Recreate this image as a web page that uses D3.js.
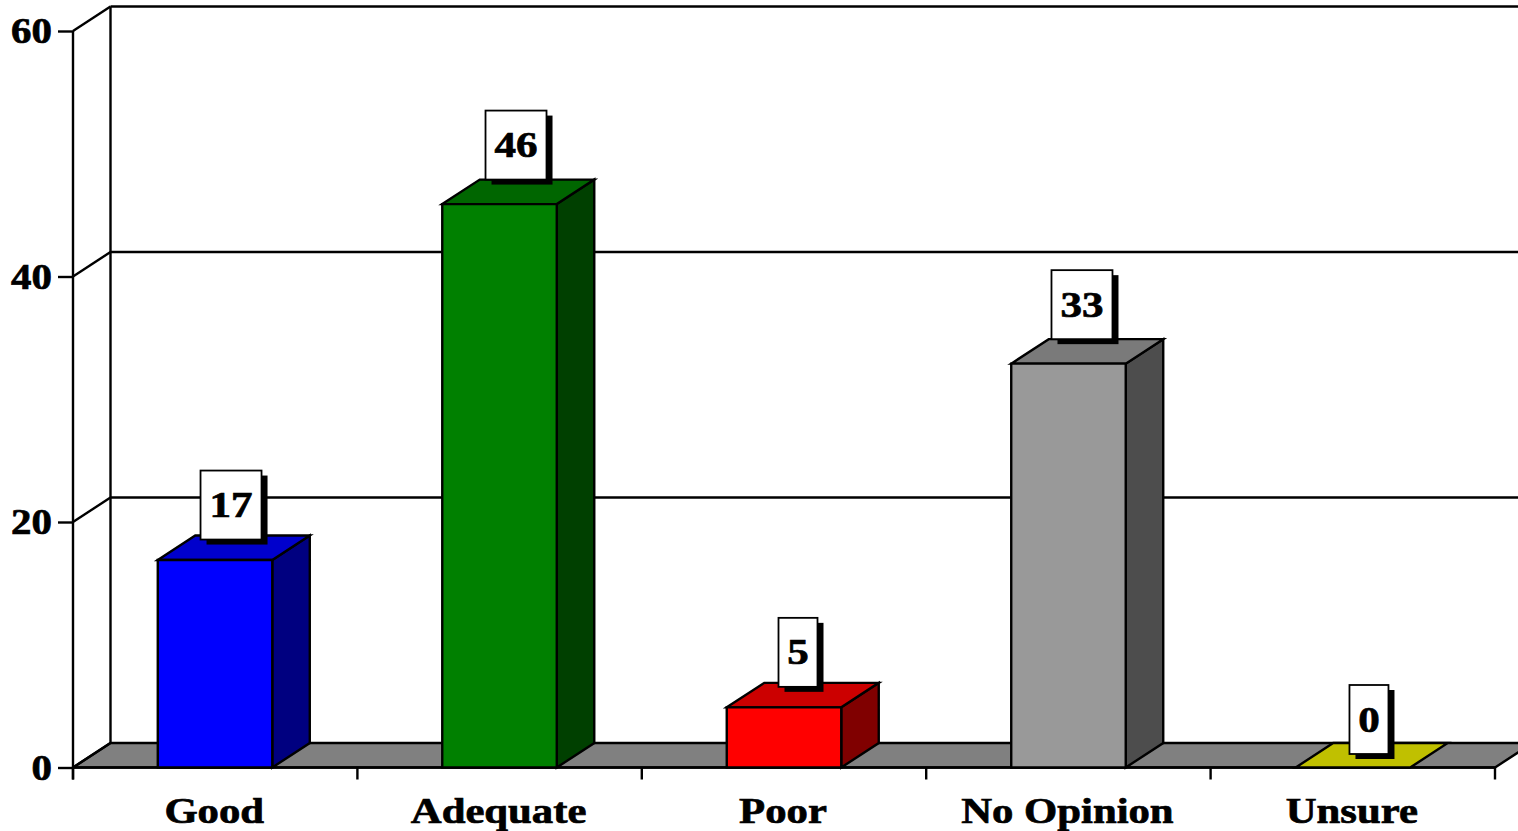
<!DOCTYPE html>
<html><head><meta charset="utf-8">
<script src="https://cdn.jsdelivr.net/npm/d3@7/dist/d3.min.js"></script>
<style>html,body{margin:0;padding:0;background:#fff;overflow:hidden}svg{display:block}
text{font-family:"Liberation Serif",serif;font-weight:bold;fill:#000;stroke:#000;stroke-width:0.7px}</style></head>
<body><svg id="c" width="1518" height="831"></svg>
<script>
const categories = ["Good","Adequate","Poor","No Opinion","Unsure"];
const values = [16.9,45.9,4.9,32.9,0];
const valueLabels = ["17","46","5","33","0"];
const frontColors = ["#0000ff","#008000","#ff0000","#999999","#c0c000"];
const topColors = ["#0000cc","#006600","#cc0000","#7a7a7a","#c0c000"];
const sideColors = ["#000080","#004000","#800000","#4d4d4d","#606000"];
const yTicks = [0,20,40,60];

const svg = d3.select("#c");
const L=73,R=1495,B=767.5,T=31,DX=37.5,DY=-24.5,FS=36.5,SX=1.17,LW=2.4;
const x = d3.scaleBand().domain(categories).range([L,R]).paddingInner(0.5975).paddingOuter(0.298);
const y = d3.scaleLinear().domain([0,60]).range([B,T]);
const lbl = d3.scaleBand().domain(categories).range([L,R]);
const poly=(g,pts,fill)=>g.append("polygon").attr("points",pts.map(p=>p.join(",")).join(" ")).attr("fill",fill).attr("stroke","#000").attr("stroke-width",LW).attr("stroke-linejoin","miter");
const line=(g,x1,y1,x2,y2)=>g.append("line").attr("x1",x1).attr("y1",y1).attr("x2",x2).attr("y2",y2).attr("stroke","#000").attr("stroke-width",LW);

// walls
const wall=svg.append("g");
poly(wall,[[L,B],[R,B],[R+DX,B+DY],[L+DX,B+DY]],"#808080");
line(wall,L,T,L,B+12);
line(wall,L+DX,T+DY,L+DX,B+DY);
line(wall,L,T,L+DX,T+DY);
line(wall,L+DX,T+DY,1518,T+DY);
yTicks.slice(1,3).forEach(v=>{
  line(wall,L,y(v),L+DX,y(v)+DY);
  line(wall,L+DX,y(v)+DY,1518,y(v)+DY);
});
line(wall,L,B,L+DX,B+DY);

// y axis
const ya=svg.append("g").attr("transform",`translate(${L},0)`).call(d3.axisLeft(y).tickValues(yTicks).tickSize(15).tickPadding(0).tickFormat(d3.format("d")));
ya.select(".domain").remove();
ya.selectAll("line").attr("stroke","#000").attr("stroke-width",LW);
ya.selectAll("text").attr("text-anchor","end").attr("font-size",FS).attr("x",0).attr("dy",null)
  .attr("y",0).attr("transform",`translate(-21,11.5) scale(1.12,1)`);

// x axis
const xa=svg.append("g").attr("transform",`translate(0,${B})`).call(d3.axisBottom(lbl).tickSize(0).tickPadding(0));
xa.select(".domain").remove();
xa.selectAll("text").attr("text-anchor","middle").attr("font-size",FS).attr("y",0).attr("dy",null)
  .attr("transform",`translate(-1,55) scale(${SX},1)`);
const boundaries=d3.range(categories.length+1).map(i=>L+i*lbl.step());
boundaries.forEach(b=>line(svg,b,B,b,B+12));
line(svg,L,B,R,B);

// bars
categories.forEach((c,i)=>{
  const g=svg.append("g"), v=values[i], x0=x(c), x1=x0+x.bandwidth(), yt=y(v);
  if(v>0){
    poly(g,[[x1,yt],[x1+DX,yt+DY],[x1+DX,B+DY],[x1,B]],sideColors[i]);
    poly(g,[[x0,yt],[x0+DX,yt+DY],[x1+DX,yt+DY],[x1,yt]],topColors[i]);
    poly(g,[[x0,yt],[x1,yt],[x1,B],[x0,B]],frontColors[i]);
  } else {
    poly(g,[[x0,B],[x0+DX,B+DY],[x1+DX,B+DY],[x1,B]],topColors[i]);
  }
});

// value labels
categories.forEach((c,i)=>{
  const s=valueLabels[i], w=s.length>1?61:39, h=69;
  const cx=x(c)+x.bandwidth()/2+[16,16.5,14,13.5,16][i], bot=y(values[i])-[20.5,24.5,20.5,24.5,13.5][i];
  const g=svg.append("g");
  g.append("rect").attr("x",cx-w/2+6).attr("y",bot-h+5).attr("width",w).attr("height",h).attr("fill","#000");
  g.append("rect").attr("x",cx-w/2).attr("y",bot-h).attr("width",w).attr("height",h).attr("fill","#fff").attr("stroke","#000").attr("stroke-width",1.8);
  g.append("text").attr("text-anchor","middle").attr("font-size",FS).attr("transform",`translate(${cx},${bot-h/2+12}) scale(1.18,1)`).text(s);
});
</script></body></html>
